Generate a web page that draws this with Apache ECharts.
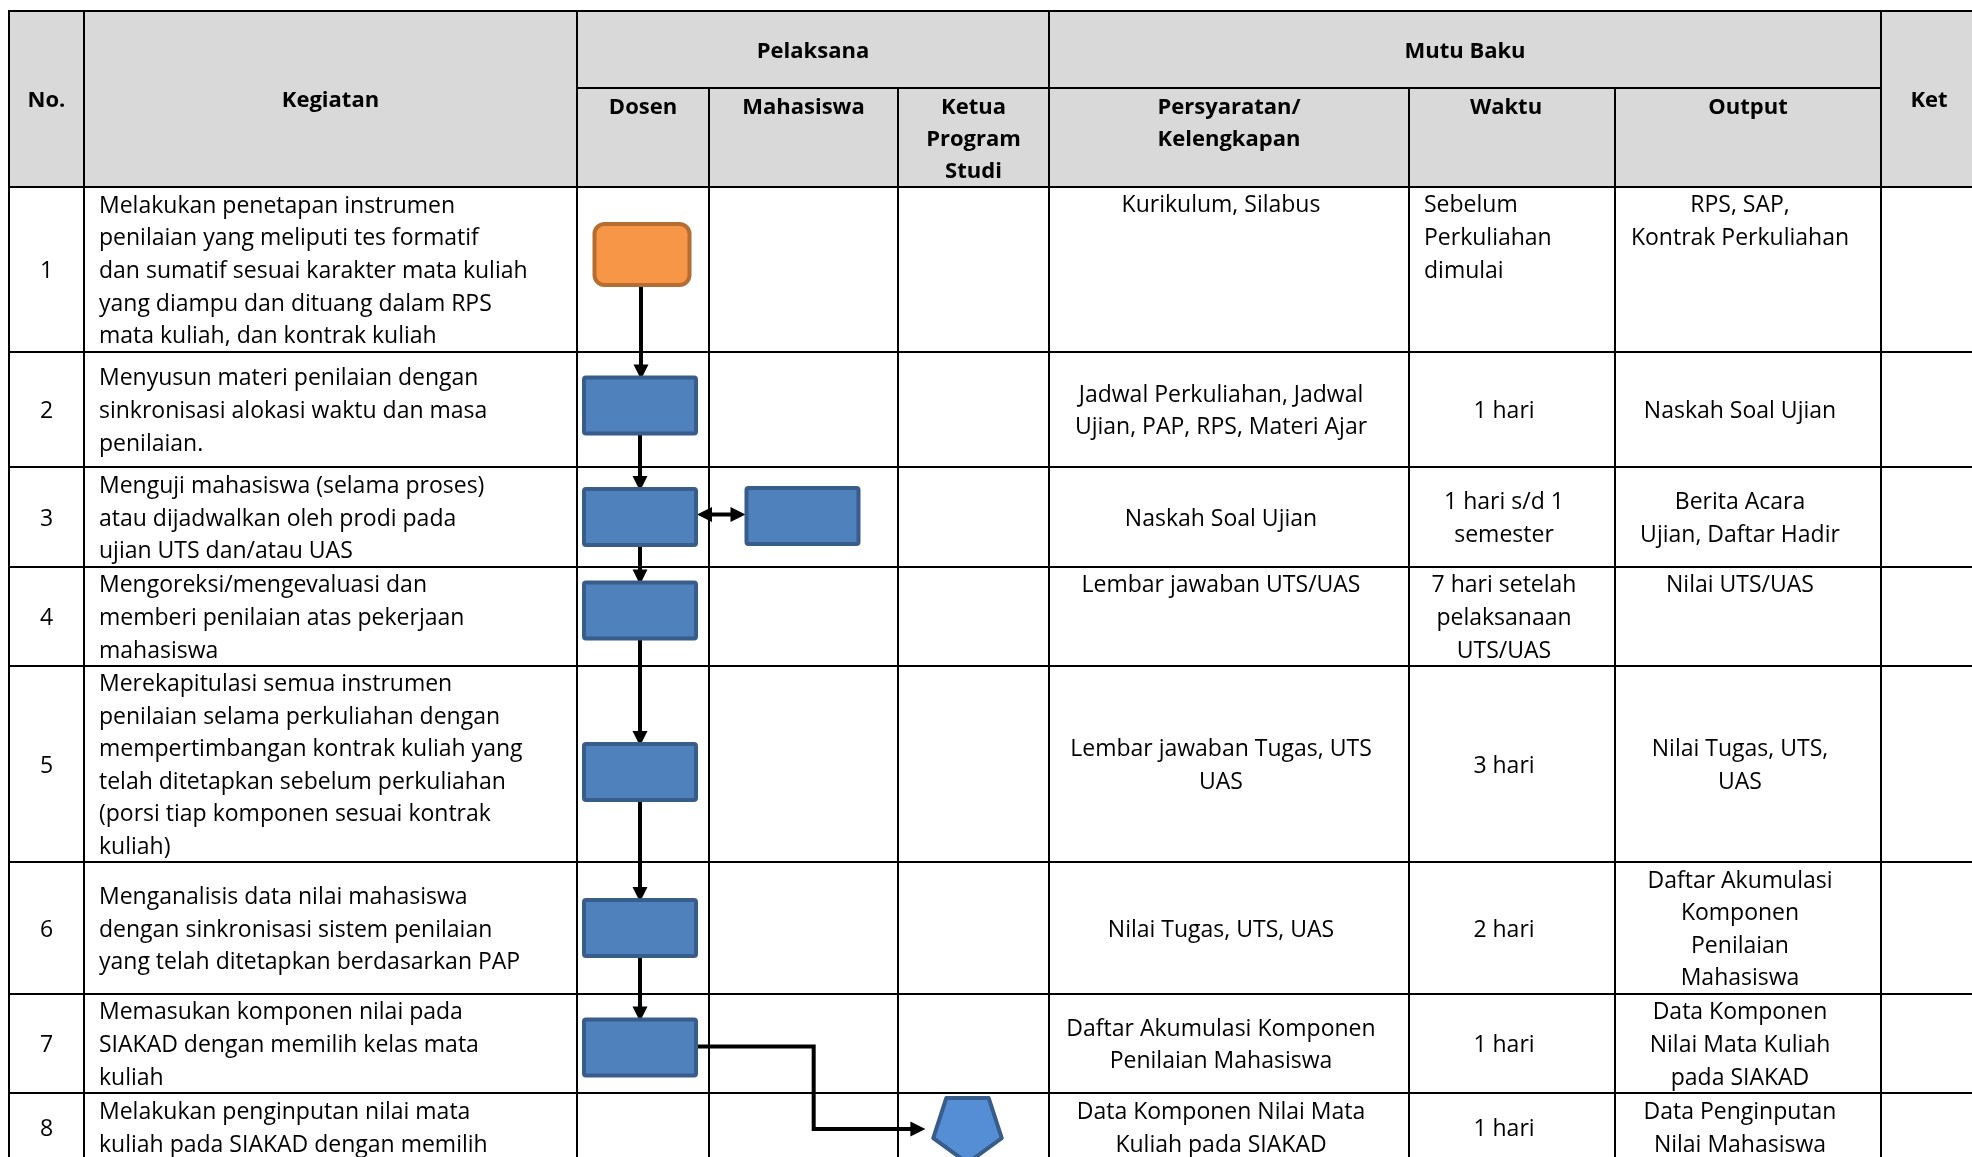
<!DOCTYPE html>
<html><head><meta charset="utf-8">
<script src="https://cdn.jsdelivr.net/npm/echarts@6/dist/echarts.min.js"></script>
<style>html,body{margin:0;padding:0;background:#fff;overflow:hidden}#c{width:1972px;height:1157px}</style>
</head><body><div id="c"></div>
<script>
// ================= DATA =================
const headerMain = ['No.', 'Kegiatan', 'Pelaksana', 'Mutu Baku', 'Ket'];
const pelaksana = ['Dosen', 'Mahasiswa', 'Ketua\nProgram\nStudi'];
const mutuBaku = ['Persyaratan/\nKelengkapan', 'Waktu', 'Output'];
const nomor = ['1', '2', '3', '4', '5', '6', '7', '8'];
const kegiatan = [
  'Melakukan penetapan instrumen\npenilaian yang meliputi tes formatif\ndan sumatif sesuai karakter mata kuliah\nyang diampu dan dituang dalam RPS\nmata kuliah, dan kontrak kuliah',
  'Menyusun materi penilaian dengan\nsinkronisasi alokasi waktu dan masa\npenilaian.',
  'Menguji mahasiswa (selama proses)\natau dijadwalkan oleh prodi pada\nujian UTS dan/atau UAS',
  'Mengoreksi/mengevaluasi dan\nmemberi penilaian atas pekerjaan\nmahasiswa',
  'Merekapitulasi semua instrumen\npenilaian selama perkuliahan dengan\nmempertimbangan kontrak kuliah yang\ntelah ditetapkan sebelum perkuliahan\n(porsi tiap komponen sesuai kontrak\nkuliah)',
  'Menganalisis data nilai mahasiswa\ndengan sinkronisasi sistem penilaian\nyang telah ditetapkan berdasarkan PAP',
  'Memasukan komponen nilai pada\nSIAKAD dengan memilih kelas mata\nkuliah',
  'Melakukan penginputan nilai mata\nkuliah pada SIAKAD dengan memilih'
];
const persyaratan = [
  'Kurikulum, Silabus',
  'Jadwal Perkuliahan, Jadwal\nUjian, PAP, RPS, Materi Ajar',
  'Naskah Soal Ujian',
  'Lembar jawaban UTS/UAS',
  'Lembar jawaban Tugas, UTS\nUAS',
  'Nilai Tugas, UTS, UAS',
  'Daftar Akumulasi Komponen\nPenilaian Mahasiswa',
  'Data Komponen Nilai Mata\nKuliah pada SIAKAD'
];
const waktu = [
  'Sebelum\nPerkuliahan\ndimulai',
  '1 hari',
  '1 hari s/d 1\nsemester',
  '7 hari setelah\npelaksanaan\nUTS/UAS',
  '3 hari',
  '2 hari',
  '1 hari',
  '1 hari'
];
const output = [
  'RPS, SAP,\nKontrak Perkuliahan',
  'Naskah Soal Ujian',
  'Berita Acara\nUjian, Daftar Hadir',
  'Nilai UTS/UAS',
  'Nilai Tugas, UTS,\nUAS',
  'Daftar Akumulasi\nKomponen\nPenilaian\nMahasiswa',
  'Data Komponen\nNilai Mata Kuliah\npada SIAKAD',
  'Data Penginputan\nNilai Mahasiswa'
];
// flow steps: row (activity index), lane (index into pelaksana), kind of symbol
const flowRow  = [0, 1, 2, 2, 3, 4, 5, 6, 7];
const flowLane = [0, 0, 0, 1, 0, 0, 0, 0, 2];
const flowKind = ['start', 'process', 'process', 'process', 'process', 'process', 'process', 'process', 'offpage'];
// links: [from step, to step, type]
const flowLinks = [[0,1,'down'],[1,2,'down'],[2,3,'both'],[2,4,'down'],[4,5,'down'],[5,6,'down'],[6,7,'down'],[7,8,'elbow']];

// ================= LAYOUT / STYLE =================
const COL_X = [9, 84, 577, 709, 898, 1049, 1409, 1615, 1881, 1977];
const ROW_Y = [11, 88, 187, 352, 467, 567, 666, 862, 994, 1093, 1161];
const FONT = 'Open Sans';
const FS = 23, FS_HEAD = 22;
const LH = 32.6;
const TEXT_DY = 2;
const LINE_W = 2;
const HEADER_FILL = '#D9D9D9';
const TOP_ALIGNED = {persyaratan: [0, 3], waktu: [0], output: [0, 3]};
const LEFT_ALIGNED = {waktu: [0]};
const CENTER_SHIFT = -8;
// small placement nudges of the flow symbols inside their cells (px)
const NUDGE_Y = [-15, -4, 0, -1, -6, 8, 0, 4, 0];
const NUDGE_X = [-1, -3, -3, -1, -3, -3, -3, -3, -6];
const SHAPE = {
  start:   {w: 99,  h: 65, r: 10, fill: '#F79646', stroke: '#B66D31'},
  process: {w: 116, h: 60, r: 2,  fill: '#4F81BD', stroke: '#385D8A'},
  offpage: {R: 38, fill: '#558ED5', stroke: '#385D8A'}
};
const SHAPE_LW = 4;
const ARROW_LW = 4, HEAD_L = 15, HEAD_W = 15;

// ---------- build text cells ----------
const cells = [];
function add(c0, c1, r0, r1, text, opt) { cells.push(Object.assign({c0, c1, r0, r1, text}, opt || {})); }
add(0, 1, 0, 2, headerMain[0], {bold: true});
add(1, 2, 0, 2, headerMain[1], {bold: true});
add(2, 5, 0, 1, headerMain[2], {bold: true});
add(5, 8, 0, 1, headerMain[3], {bold: true});
add(8, 9, 0, 2, headerMain[4], {bold: true});
pelaksana.forEach((t, i) => add(2 + i, 3 + i, 1, 2, t, {bold: true, valign: 'top', pad: 2, lh: 32}));
mutuBaku.forEach((t, i) => add(5 + i, 6 + i, 1, 2, t, {bold: true, valign: 'top', pad: 2, lh: 32, dx: i === 1 ? -6 : 0}));
for (let r = 0; r < nomor.length; r++) {
  const R0 = r + 2, R1 = r + 3;
  add(0, 1, R0, R1, nomor[r]);
  add(1, 2, R0, R1, kegiatan[r], {align: 'left'});
  const cols = [['persyaratan', persyaratan, 5], ['waktu', waktu, 6], ['output', output, 7]];
  cols.forEach(([name, arr, ci]) => {
    const top = (TOP_ALIGNED[name] || []).indexOf(r) >= 0;
    const left = (LEFT_ALIGNED[name] || []).indexOf(r) >= 0;
    add(ci, ci + 1, R0, R1, arr[r], {valign: top ? 'top' : 'middle', pad: 0.5, align: left ? 'left' : 'center', dx: CENTER_SHIFT});
  });
}

// ---------- table line segments ----------
const segs = [];
const last = ROW_Y.length - 1;
segs.push([COL_X[0], ROW_Y[0], COL_X[9], ROW_Y[0]]);
segs.push([COL_X[2], ROW_Y[1], COL_X[8], ROW_Y[1]]);
for (let k = 2; k <= last; k++) segs.push([COL_X[0], ROW_Y[k], COL_X[9], ROW_Y[k]]);
[0, 1, 2, 5, 8, 9].forEach(i => segs.push([COL_X[i], ROW_Y[0], COL_X[i], ROW_Y[last]]));
[3, 4, 6, 7].forEach(i => segs.push([COL_X[i], ROW_Y[1], COL_X[i], ROW_Y[last]]));

// ---------- helpers ----------
function nodeGeom(i, api) {
  const lane = flowLane[i], row = flowRow[i] + 2;
  const p0 = api.coord([COL_X[lane + 2], ROW_Y[row]]);
  const p1 = api.coord([COL_X[lane + 3], ROW_Y[row + 1]]);
  const cx = (p0[0] + p1[0]) / 2 + NUDGE_X[i], cy = (p0[1] + p1[1]) / 2 + NUDGE_Y[i];
  const k = flowKind[i], s = SHAPE[k];
  if (k === 'offpage') {
    const R = s.R;
    return {cx, cy, kind: k, left: cx - 0.951 * R, right: cx + 0.951 * R, top: cy - 0.809 * R, bottom: cy + R};
  }
  return {cx, cy, kind: k, left: cx - s.w / 2, right: cx + s.w / 2, top: cy - s.h / 2, bottom: cy + s.h / 2};
}
function head(tip, dir) {
  const [x, y] = tip, L = HEAD_L, W = HEAD_W / 2;
  let pts;
  if (dir === 'down') pts = [[x, y], [x - W, y - L], [x + W, y - L]];
  else if (dir === 'right') pts = [[x, y], [x - L, y - W], [x - L, y + W]];
  else pts = [[x, y], [x + L, y - W], [x + L, y + W]];
  return {type: 'polygon', shape: {points: pts}, style: {fill: '#000', stroke: null}};
}

const chart = echarts.init(document.getElementById('c'), null, {renderer: 'canvas'});
chart.setOption({
  animation: false,
  backgroundColor: '#ffffff',
  grid: {left: 0, right: 0, top: 0, bottom: 0},
  xAxis: {type: 'value', min: 0, max: 1972, show: false},
  yAxis: {type: 'value', min: 0, max: 1157, inverse: true, show: false},
  series: [
    { // header background
      type: 'custom', z: 1, silent: true,
      data: [[0, 0]],
      renderItem: (params, api) => {
        const a = api.coord([COL_X[0], ROW_Y[0]]), b = api.coord([COL_X[9], ROW_Y[2]]);
        return {type: 'rect', shape: {x: a[0], y: a[1], width: b[0] - a[0], height: b[1] - a[1]}, style: {fill: HEADER_FILL}};
      }
    },
    { // table lines
      type: 'custom', z: 2, silent: true,
      data: segs.map((s, i) => [i, 0]),
      renderItem: (params, api) => {
        const s = segs[params.dataIndex];
        const a = api.coord([s[0], s[1]]), b = api.coord([s[2], s[3]]);
        return {type: 'line', shape: {x1: a[0], y1: a[1], x2: b[0], y2: b[1]}, style: {stroke: '#000', lineWidth: LINE_W, lineCap: 'square'}};
      }
    },
    { // connectors
      type: 'custom', z: 3, silent: true,
      data: flowLinks.map((l, i) => [i, 0]),
      renderItem: (params, api) => {
        const [f, t, type] = flowLinks[params.dataIndex];
        const A = nodeGeom(f, api), B = nodeGeom(t, api);
        const ls = {stroke: '#000', lineWidth: ARROW_LW, fill: null, lineJoin: 'miter'};
        const ch = [];
        if (type === 'down') {
          const x = (A.cx + B.cx) / 2, tip = B.top + 4;
          ch.push({type: 'polyline', shape: {points: [[x, A.bottom - 5], [x, tip - HEAD_L + 1]]}, style: ls});
          ch.push(head([x, tip], 'down'));
        } else if (type === 'both') {
          const y = (A.cy + B.cy) / 2 - 2, x0 = A.right - 1, x1 = B.left + 1;
          ch.push({type: 'polyline', shape: {points: [[x0 + HEAD_L - 1, y], [x1 - HEAD_L + 1, y]]}, style: ls});
          ch.push(head([x0, y], 'left'));
          ch.push(head([x1, y], 'right'));
        } else {
          const y0 = A.cy - 1, x0 = A.right - 2, y1 = B.cy + 2, tip = B.left - 6;
          const mx = (x0 + B.left) / 2;
          ch.push({type: 'polyline', shape: {points: [[x0, y0], [mx, y0], [mx, y1], [tip - HEAD_L + 1, y1]]}, style: ls});
          ch.push(head([tip, y1], 'right'));
        }
        return {type: 'group', children: ch};
      }
    },
    { // flow symbols
      type: 'custom', z: 4, silent: true,
      data: flowRow.map((r, i) => [i, 0]),
      renderItem: (params, api) => {
        const i = params.dataIndex, g = nodeGeom(i, api), s = SHAPE[g.kind];
        const st = {fill: s.fill, stroke: s.stroke, lineWidth: SHAPE_LW};
        if (g.kind === 'offpage') {
          const pts = [];
          for (let k = 0; k < 5; k++) {
            const th = Math.PI / 2 + k * 2 * Math.PI / 5;
            pts.push([g.cx + (s.R - 2) * Math.cos(th), g.cy + (s.R - 2) * Math.sin(th)]);
          }
          return {type: 'polygon', shape: {points: pts}, style: Object.assign({lineJoin: 'round'}, st)};
        }
        const h = SHAPE_LW / 2;
        return {type: 'rect', shape: {x: g.left + h, y: g.top + h, width: s.w - SHAPE_LW, height: s.h - SHAPE_LW, r: s.r}, style: st};
      }
    },
    { // texts
      type: 'custom', z: 5, silent: true,
      data: cells.map((c, i) => [i, 0]),
      renderItem: (params, api) => {
        const c = cells[params.dataIndex];
        const a = api.coord([COL_X[c.c0], ROW_Y[c.r0]]), b = api.coord([COL_X[c.c1], ROW_Y[c.r1]]);
        const align = c.align || 'center';
        let x;
        if (align === 'left') x = a[0] + 15;
        else x = (a[0] + b[0]) / 2 + (c.dx || 0);
        let y, va;
        if (c.valign === 'top') { y = a[1] + (c.pad || 0) + TEXT_DY; va = 'top'; }
        else { y = (a[1] + b[1]) / 2 + TEXT_DY; va = 'middle'; }
        return {type: 'text', style: {
          text: c.text, x, y, align, verticalAlign: va,
          fontFamily: FONT, fontSize: c.bold ? FS_HEAD : FS, fontWeight: c.bold ? 'bold' : 'normal',
          lineHeight: c.lh || LH, fill: '#000'
        }};
      }
    }
  ]
});
</script></body></html>
